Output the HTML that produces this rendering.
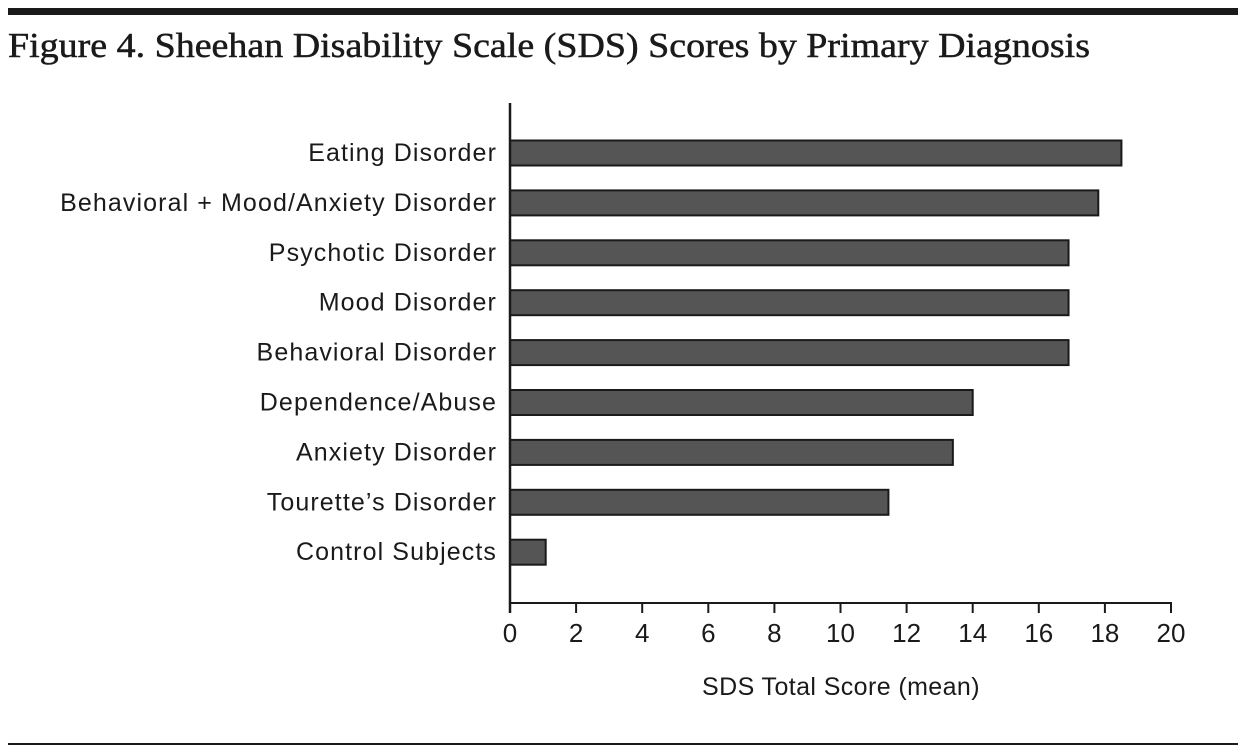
<!DOCTYPE html>
<html><head><meta charset="utf-8"><style>
body{margin:0;background:#fff;}
svg{display:block;}
text{font-family:"Liberation Sans",sans-serif;fill:#1a1a1a;}
</style></head><body>
<svg id="chart" width="1243" height="756" xmlns="http://www.w3.org/2000/svg">
<rect x="8" y="8" width="1230" height="7" fill="#1a1a1a"/>
<text x="8" y="57" textLength="1082" lengthAdjust="spacingAndGlyphs" style="font-family:'Liberation Serif',serif;font-size:35px;stroke:#1a1a1a;stroke-width:0.5">Figure 4. Sheehan Disability Scale (SDS) Scores by Primary Diagnosis</text>
<rect x="8" y="743" width="1230" height="2" fill="#1a1a1a"/>
<g id="plot"></g>
</svg>
<script>
const categories=["Eating Disorder","Behavioral + Mood/Anxiety Disorder","Psychotic Disorder","Mood Disorder","Behavioral Disorder","Dependence/Abuse","Anxiety Disorder","Tourette’s Disorder","Control Subjects"];
const values=[18.5,17.8,16.9,16.9,16.9,14.0,13.4,11.45,1.08];
const ticks=[0,2,4,6,8,10,12,14,16,18,20];
const NS="http://www.w3.org/2000/svg";
const g=document.getElementById('plot');
const x0=510,x1=1171,yTop=103,yAxis=603;
function xs(v){return x0+(v-0)/(20-0)*(x1-x0);}
function ys(i){return 153+i*49.9;}
function el(t,a){const e=document.createElementNS(NS,t);for(const k in a)e.setAttribute(k,a[k]);g.appendChild(e);return e;}
categories.forEach((c,i)=>{
  const r=el('rect',{x:xs(0),y:ys(i)-12.5,width:xs(values[i])-xs(0),height:25,fill:'#555',stroke:'#1a1a1a','stroke-width':2});
  
  
  const t=el('text',{x:497,y:ys(i)+8,'text-anchor':'end','font-size':25,'letter-spacing':'1.1px'});
  t.textContent=c;
  
  
});
const ya=el('line',{x1:x0,y1:yTop,x2:x0,y2:yAxis+10,stroke:'#1a1a1a','stroke-width':2.5});


const xa=el('line',{x1:x0,y1:yAxis,x2:x1+1,y2:yAxis,stroke:'#1a1a1a','stroke-width':2});


ticks.forEach(v=>{
  const l=el('line',{x1:xs(v),y1:yAxis,x2:xs(v),y2:yAxis+10,stroke:'#1a1a1a','stroke-width':2});
  
  
  const t=el('text',{x:xs(v),y:642,'text-anchor':'middle','font-size':26});
  t.textContent=v;
  
  
});
const at=el('text',{x:841,y:695,'text-anchor':'middle','font-size':25,'letter-spacing':'0.4px'});
at.textContent='SDS Total Score (mean)';


</script>
</body></html>
